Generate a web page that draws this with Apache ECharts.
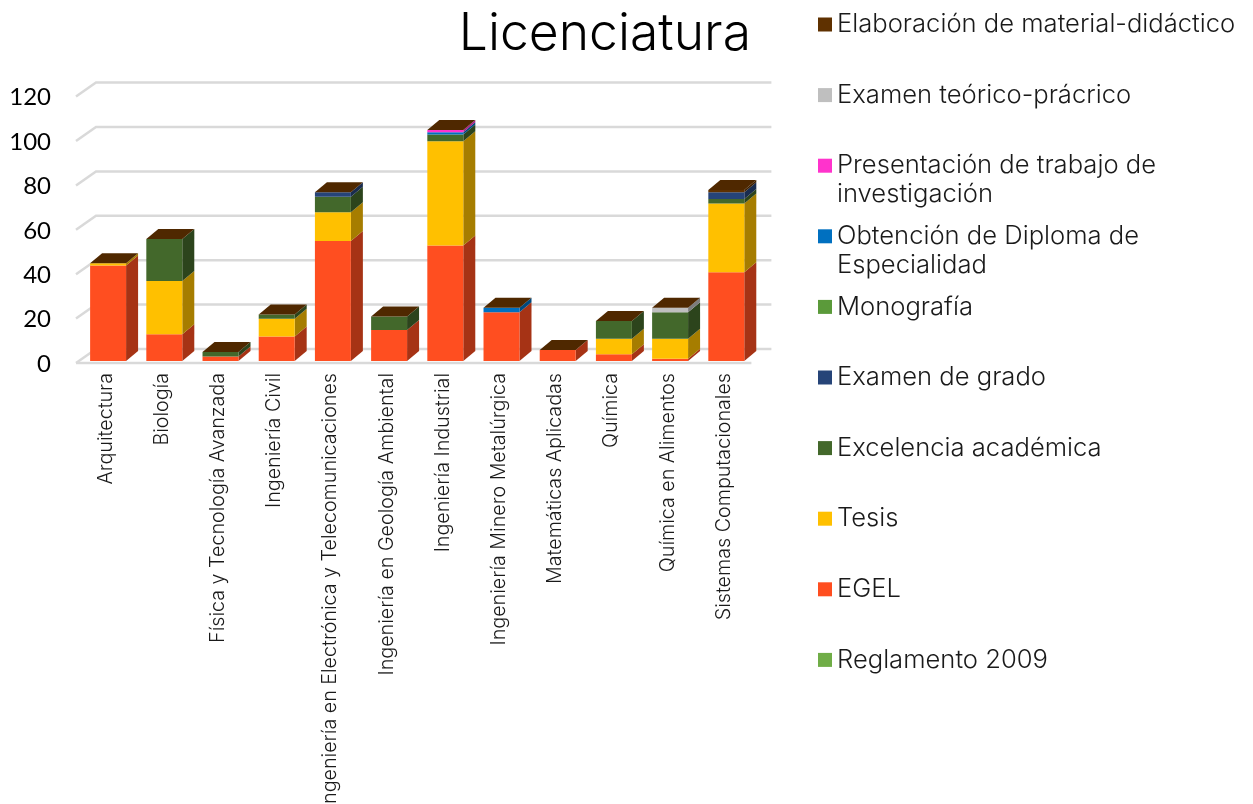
<!DOCTYPE html>
<html>
<head>
<meta charset="utf-8">
<title>Licenciatura</title>
<style>
  html, body { margin: 0; padding: 0; background: #fff; }
  #chart { width: 1253px; height: 804px; }
</style>
<script src="https://cdn.jsdelivr.net/npm/echarts@6/dist/echarts.min.js"></script>
</head>
<body>
<div id="chart"></div>
<script>
  var categories = ['Arquitectura', 'Biología', 'Física y Tecnología Avanzada', 'Ingeniería Civil',
    'Ingeniería en Electrónica y Telecomunicaciones', 'Ingeniería en Geología Ambiental', 'Ingeniería Industrial',
    'Ingeniería Minero Metalúrgica', 'Matemáticas Aplicadas', 'Química', 'Química en Alimentos', 'Sistemas Computacionales'];
  var yTicks = [0, 20, 40, 60, 80, 100, 120];

  var reglamento = [0, 0, 0, 0, 0, 0, 0, 0, 0, 0, 0, 0];
  var egel = [43, 12, 2, 11, 54, 14, 52, 22, 5, 3, 1, 40];
  var tesis = [1, 24, 0, 8, 13, 0, 47, 0, 0, 7, 9, 31];
  var excelencia = [0, 19, 2, 2, 7, 6, 3, 0, 0, 8, 12, 2];
  var examenGrado = [0, 0, 0, 0, 2, 0, 0, 0, 0, 0, 0, 3];
  var monografia = [0, 0, 0, 0, 0, 0, 0, 0, 0, 0, 0, 0];
  var diploma = [0, 0, 0, 0, 0, 0, 1, 2, 0, 0, 0, 0];
  var presentacion = [0, 0, 0, 0, 0, 0, 1, 0, 0, 0, 0, 0];
  var teorico = [0, 0, 0, 0, 0, 0, 0, 0, 0, 0, 2, 0];
  var elaboracion = [0, 0, 0, 0, 0, 0, 0, 0, 0, 0, 0, 1];

  // de abajo hacia arriba en la pila
  var stackNames = ['Reglamento 2009', 'EGEL', 'Tesis', 'Excelencia académica', 'Examen de grado', 'Monografía',
    'Obtención de Diploma de Especialidad', 'Presentación de trabajo de investigación', 'Examen teórico-prácrico',
    'Elaboración de material-didáctico'];
  var stackValues = [reglamento, egel, tesis, excelencia, examenGrado, monografia, diploma, presentacion, teorico, elaboracion];
  var stackColors = ['#70AD47', '#FF4E20', '#FFC000', '#43682B', '#264478', '#5B9A3A', '#0070C0', '#FF33CC', '#BFBFBF', '#5F3100'];

  var FONT = 'Inter';
  var DEPTH_X = 12;
  var DEPTH_Y = 10;
  var TOP_COLOR = '#4F2800';
  var GRID_COLOR = '#D9D9D9';

  function poly(points, color) {
    return { type: 'polygon', shape: { points: points }, style: { fill: color } };
  }

  // cara lateral: el mismo color, mas oscuro
  function darken(hex) {
    var n = parseInt(hex.slice(1), 16);
    var r = Math.round((n >> 16) * 0.65);
    var g = Math.round(((n >> 8) & 255) * 0.65);
    var b = Math.round((n & 255) * 0.65);
    return 'rgb(' + r + ',' + g + ',' + b + ')';
  }

  function renderBar(lastOne, color) {
    var side = darken(color);
    return function (params, api) {
      var i = api.value(0);
      var w = api.size([1, 0])[0] * 0.64;
      var bottom = api.coord([i, api.value(1)]);
      var top = api.coord([i, api.value(2)]);
      var l = top[0] - w / 2;
      var r = top[0] + w / 2;
      var children = [];
      if (top[1] !== bottom[1]) {
        children.push(poly([[r, bottom[1]], [r + DEPTH_X, bottom[1] - DEPTH_Y], [r + DEPTH_X, top[1] - DEPTH_Y], [r, top[1]]], side));
        children.push(poly([[l, bottom[1]], [r, bottom[1]], [r, top[1]], [l, top[1]]], color));
      }
      if (lastOne) {
        children.push(poly([[l, top[1]], [r, top[1]], [r + DEPTH_X, top[1] - DEPTH_Y], [l + DEPTH_X, top[1] - DEPTH_Y]], TOP_COLOR));
      }
      return { type: 'group', children: children };
    };
  }

  // paredes del fondo: diagonal izquierda y linea de fondo por cada marca del eje
  function renderWall(params, api) {
    var v = api.value(1);
    var band = api.size([1, 0])[0];
    var p0 = api.coord([0, v]);
    var p1 = api.coord([categories.length - 1, v]);
    var left = p0[0] - band / 2;
    var right = p1[0] + band / 2;
    var children = [{
      type: 'polyline',
      shape: { points: [[left - 4, p0[1] + 2], [left + 16, p0[1] - 12], [right + 17, p0[1] - 12]] },
      style: { fill: null, stroke: GRID_COLOR, lineWidth: 2.5 }
    }];
    if (v === 0) {
      children.push({
        type: 'line',
        shape: { x1: left - 4, y1: p0[1] + 2, x2: right - 3, y2: p0[1] + 2 },
        style: { stroke: GRID_COLOR, lineWidth: 2.5 }
      });
    }
    return { type: 'group', children: children };
  }

  var series = [{
    type: 'custom',
    silent: true,
    clip: false,
    z: 1,
    renderItem: renderWall,
    data: yTicks.map(function (v) { return [0, v]; })
  }];

  var base = categories.map(function () { return 0; });
  stackNames.forEach(function (name, s) {
    var data = stackValues[s].map(function (v, i) {
      var row = [i, base[i], base[i] + v];
      base[i] += v;
      return row;
    });
    series.push({
      name: name,
      type: 'custom',
      clip: false,
      z: 2 + s,
      itemStyle: { color: stackColors[s] },
      renderItem: renderBar(s === stackNames.length - 1, stackColors[s]),
      data: data
    });
  });

  // cada entrada en su propia leyenda: el paso es fijo aunque el texto ocupe dos lineas.
  // la linea vacia de arriba deja el cuadrito a la altura de la primera linea
  var wrapped = {
    'Presentación de trabajo de investigación': '\nPresentación de trabajo de\ninvestigación',
    'Obtención de Diploma de Especialidad': '\nObtención de Diploma de\nEspecialidad'
  };
  var legends = stackNames.slice().reverse().map(function (name, i) {
    return {
      data: [name],
      left: 818,
      top: 10 + i * 70.6 + (wrapped[name] ? -29 : 0),
      padding: 0,
      icon: 'rect',
      itemWidth: 14,
      itemHeight: 14,
      selectedMode: false,
      formatter: function (n) { return wrapped[n] || n; },
      textStyle: {
        fontFamily: FONT,
        fontSize: 25.6,
        fontWeight: 300,
        lineHeight: 29,
        color: '#1a1a1a'
      }
    };
  });

  var chart = echarts.init(document.getElementById('chart'));
  chart.setOption({
    animation: false,
    backgroundColor: '#fff',
    title: {
      text: 'Licenciatura',
      right: 502,
      top: 8,
      padding: 0,
      textStyle: { fontFamily: FONT, fontSize: 51.6, fontWeight: 300, color: '#000' }
    },
    legend: legends,
    grid: { left: 80, width: 674.4, top: 94.6, height: 266.4, outerBoundsMode: 'none' },
    xAxis: {
      type: 'category',
      data: categories,
      axisLine: { show: false },
      axisTick: { show: false },
      axisLabel: {
        interval: 0,
        rotate: 90,
        margin: 12,
        hideOverlap: false,
        formatter: '{a|{value}}',
        rich: {
          a: { fontFamily: FONT, fontSize: 19.7, fontWeight: 300, color: '#1a1a1a', padding: [0, 0, 5, 0] }
        }
      }
    },
    yAxis: {
      type: 'value',
      min: 0,
      max: 120,
      interval: 20,
      axisLine: { show: false },
      axisTick: { show: false },
      splitLine: { show: false },
      axisLabel: {
        margin: 29,
        formatter: '{a|{value}}',
        rich: {
          a: { fontFamily: 'Lato', fontSize: 24, color: '#000', padding: [6, 0, 0, 0] }
        }
      }
    },
    series: series
  });
</script>
</body>
</html>
